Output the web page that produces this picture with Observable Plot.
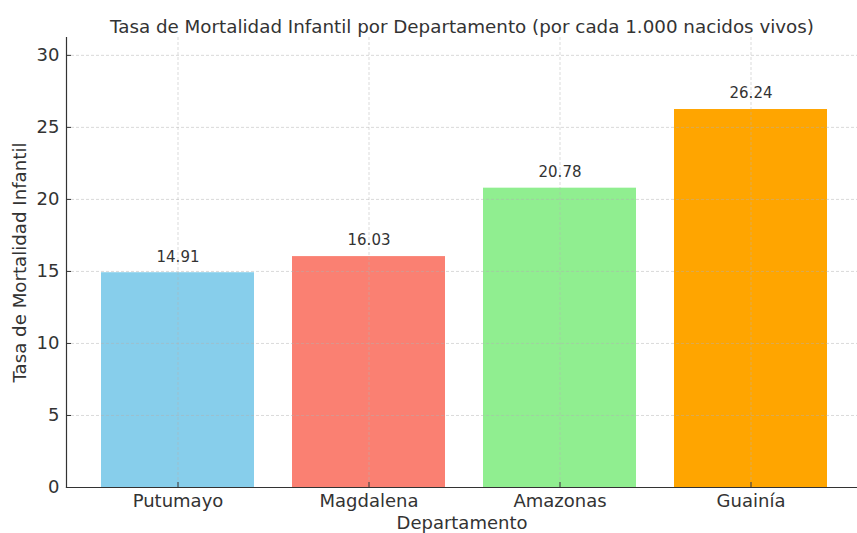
<!DOCTYPE html>
<html>
<head>
<meta charset="utf-8">
<script src="https://cdn.jsdelivr.net/npm/d3@7"></script>
<script src="https://cdn.jsdelivr.net/npm/@observablehq/plot@0.6"></script>
<style>
  html, body { margin: 0; padding: 0; background: white; }
</style>
</head>
<body>
<div id="chart"></div>
<script>
const departamentos = ["Putumayo", "Magdalena", "Amazonas", "Guainía"];
const tasas = [14.91, 16.03, 20.78, 26.24];
const colores = ["#87CEEB", "#FA8072", "#90EE90", "#FFA500"];
const yTicks = [0, 5, 10, 15, 20, 25, 30];
const titulo = "Tasa de Mortalidad Infantil por Departamento (por cada 1.000 nacidos vivos)";
const etiquetaX = "Departamento";
const etiquetaY = "Tasa de Mortalidad Infantil";

const data = departamentos.map((d, i) => ({dep: d, tasa: tasas[i], color: colores[i]}));
const ink = "#333333";
const gridStyle = {stroke: "#b0b0b0", strokeOpacity: 0.6, strokeDasharray: "3,2", strokeWidth: 0.8};

const chart = Plot.plot({
  width: 857,
  height: 533,
  marginLeft: 66,
  marginRight: 0,
  marginTop: 37,
  marginBottom: 46,
  style: {fontFamily: "DejaVu Sans", color: ink, background: "white"},
  x: {domain: departamentos, range: [82, 846], paddingInner: 0.2, paddingOuter: 0.1, label: null},
  y: {domain: [0, 31.24], label: null},
  color: {type: "identity"},
  marks: [
    Plot.barY(data, {x: "dep", y: "tasa", fill: "color"}),
    Plot.gridY(yTicks, gridStyle),
    Plot.gridX(departamentos, gridStyle),
    Plot.frame({anchor: "left", stroke: ink, strokeWidth: 1.2}),
    Plot.frame({anchor: "bottom", stroke: ink, strokeWidth: 1.2}),
    Plot.axisY(yTicks, {tickSize: -5, tickPadding: 12, fontSize: 18, label: null, stroke: ink}),
    Plot.axisX({tickSize: -5, tickPadding: 12, fontSize: 18, label: null, stroke: ink}),
    Plot.text(data, {x: "dep", y: "tasa", text: d => d.tasa.toFixed(2), dy: -16, fontSize: 15, fill: ink}),
    Plot.text([titulo], {frameAnchor: "top", dy: -18, fontSize: 18.3, fill: ink}),
    Plot.text([etiquetaX], {frameAnchor: "bottom", dy: 41, fontSize: 18, fill: ink}),
    Plot.text([etiquetaY], {frameAnchor: "left", textAnchor: "middle", dx: -46, rotate: -90, fontSize: 18.2, fill: ink})
  ]
});
document.getElementById("chart").appendChild(chart);
</script>
</body>
</html>
